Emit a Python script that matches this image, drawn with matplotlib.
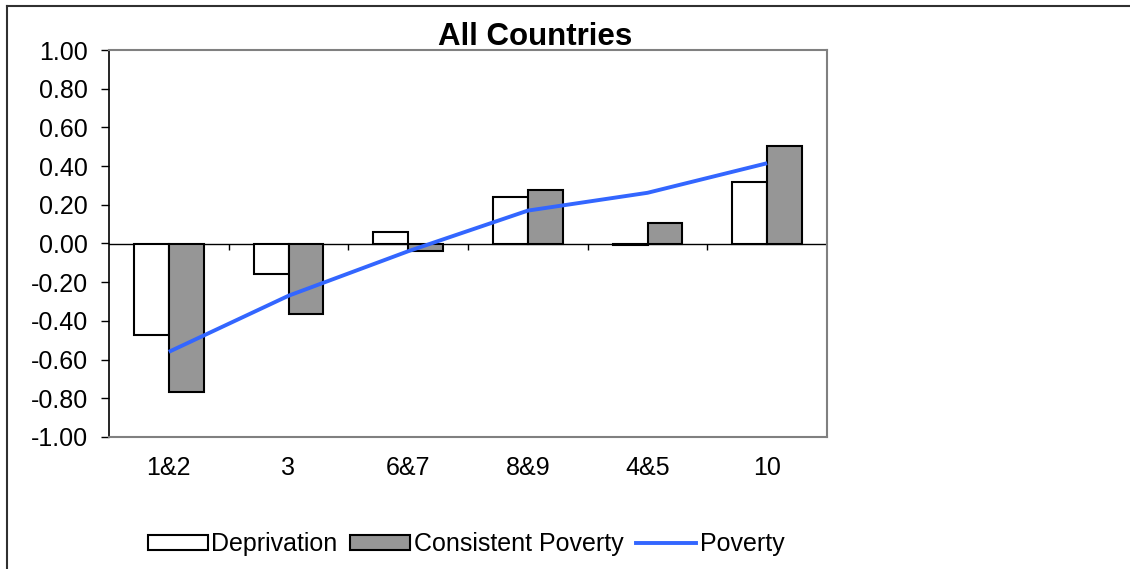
import numpy as np
import matplotlib
matplotlib.use("Agg")
import matplotlib.pyplot as plt
from matplotlib.lines import Line2D
from matplotlib.patches import Patch
from matplotlib.ticker import FuncFormatter, MultipleLocator
from matplotlib.transforms import blended_transform_factory

plt.rcParams['font.family'] = ['Liberation Sans', 'DejaVu Sans']
plt.rcParams['axes.unicode_minus'] = False

categories = ["1&2", "3", "6&7", "8&9", "4&5", "10"]
deprivation = [-0.475, -0.157, 0.062, 0.238, -0.010, 0.320]
consistent_poverty = [-0.767, -0.362, -0.040, 0.278, 0.105, 0.506]
poverty = [-0.560, -0.270, -0.040, 0.170, 0.262, 0.415]

W, H = 1130, 569
fig = plt.figure(figsize=(W / 100, H / 100), dpi=100)
ax = fig.add_axes([109 / W, 1 - 437 / H, (827 - 109) / W, (437 - 50) / H])

x = np.arange(len(categories))
bw = 0.29
ax.bar(x - bw / 2, deprivation, bw, color='white', edgecolor='black',
       linewidth=1.5, zorder=2)
ax.bar(x + bw / 2, consistent_poverty, bw, color='#969696', edgecolor='black',
       linewidth=1.5, zorder=2)
ax.plot(x, poverty, color='#3366FF', linewidth=2.8, zorder=3,
        solid_capstyle='butt')

# zero line with category-boundary tick marks
ax.axhline(0, color='black', linewidth=1, zorder=1)
ax.vlines(np.arange(len(categories)) + 0.5, -0.035, 0, color='black',
          linewidth=1, zorder=1)

ax.set_xlim(-0.5, len(categories) - 0.5)
ax.set_ylim(-1.0, 1.0)
ax.yaxis.set_major_locator(MultipleLocator(0.2))
ax.yaxis.set_major_formatter(FuncFormatter(lambda v, p: f"{v:.2f}"))
ax.tick_params(axis='y', direction='out', length=5.8, width=1, pad=9.4,
               labelsize=18, colors='black')
ax.set_xticks([])

for side in ['top', 'right', 'bottom']:
    ax.spines[side].set_color('#808080')
    ax.spines[side].set_linewidth(1.5)
ax.spines['left'].set_color('black')
ax.spines['left'].set_linewidth(1.2)

trans = blended_transform_factory(ax.transData, ax.transAxes)
for xi, lab in zip(x, categories):
    ax.text(xi, -0.08, lab, transform=trans, ha='center', va='center',
            fontsize=18)

fig.text(535 / W, 1 - 37 / H, "All Countries", ha='center', va='center',
         fontsize=22.5, fontweight='bold')

handles = [
    Patch(facecolor='white', edgecolor='black', linewidth=1.5),
    Patch(facecolor='#969696', edgecolor='black', linewidth=1.5),
    Line2D([0], [0], color='#3366FF', linewidth=2.8),
]
fig.legend(handles, ["Deprivation", "Consistent Poverty", "Poverty"],
           loc='center', bbox_to_anchor=(466 / W, 1 - 544 / H), ncol=3,
           frameon=False, fontsize=18, handlelength=2.4, handleheight=0.55,
           handletextpad=0.15, columnspacing=0.5, borderpad=0)

# outer chart frame (left and top edges)
fx, fy = 7 / W, 1 - 6 / H
fig.add_artist(Line2D([fx, fx], [0, fy], color='#303030', linewidth=1.5,
                      transform=fig.transFigure))
fig.add_artist(Line2D([fx, 1], [fy, fy], color='#303030', linewidth=1.5,
                      transform=fig.transFigure))

fig.savefig("out.png", dpi=100, facecolor='white')
